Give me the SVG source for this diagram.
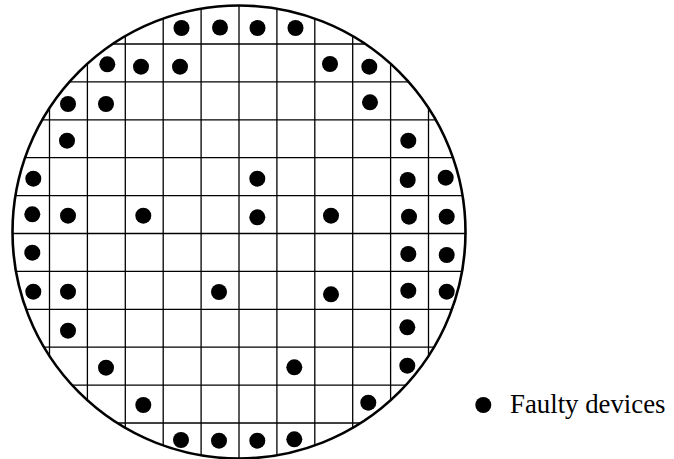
<svg xmlns="http://www.w3.org/2000/svg" width="674" height="459" viewBox="0 0 674 459">
<style>
.grid line{stroke:#000;stroke-width:1.3}
.dot{fill:#000}
.label{font-family:"Liberation Serif","DejaVu Serif",serif;font-size:26.8px;fill:#000}
</style>
<defs>
<clipPath id="wafer"><circle cx="239" cy="232" r="226.5"/></clipPath>
</defs>
<rect width="674" height="459" fill="#fff"/>
<g id="grid" class="grid" clip-path="url(#wafer)">
<line x1="49.5" y1="0" x2="49.5" y2="459"/>
<line x1="87.4" y1="0" x2="87.4" y2="459"/>
<line x1="125.3" y1="0" x2="125.3" y2="459"/>
<line x1="163.2" y1="0" x2="163.2" y2="459"/>
<line x1="201.1" y1="0" x2="201.1" y2="459"/>
<line x1="239" y1="0" x2="239" y2="459"/>
<line x1="276.9" y1="0" x2="276.9" y2="459"/>
<line x1="314.8" y1="0" x2="314.8" y2="459"/>
<line x1="352.7" y1="0" x2="352.7" y2="459"/>
<line x1="390.6" y1="0" x2="390.6" y2="459"/>
<line x1="428.5" y1="0" x2="428.5" y2="459"/>
<line x1="0" y1="44" x2="674" y2="44"/>
<line x1="0" y1="81.9" x2="674" y2="81.9"/>
<line x1="0" y1="119.8" x2="674" y2="119.8"/>
<line x1="0" y1="157.7" x2="674" y2="157.7"/>
<line x1="0" y1="195.6" x2="674" y2="195.6"/>
<line x1="0" y1="233.5" x2="674" y2="233.5"/>
<line x1="0" y1="271.4" x2="674" y2="271.4"/>
<line x1="0" y1="309.3" x2="674" y2="309.3"/>
<line x1="0" y1="347.2" x2="674" y2="347.2"/>
<line x1="0" y1="385.1" x2="674" y2="385.1"/>
<line x1="0" y1="423" x2="674" y2="423"/>
</g>
<g id="wafer-outline">
<circle cx="239" cy="232" r="226.5" fill="none" stroke="#000" stroke-width="2.6"/>
</g>
<g id="faulty-devices" class="dot">
<circle cx="181.5" cy="28" r="8"/><circle cx="220" cy="27.5" r="8"/><circle cx="257.5" cy="28" r="8"/><circle cx="295.5" cy="28" r="8"/>
<circle cx="107.3" cy="64.3" r="8"/><circle cx="141" cy="66.7" r="8"/><circle cx="180" cy="66.7" r="8"/><circle cx="330" cy="64" r="8"/><circle cx="369.3" cy="66.7" r="8"/>
<circle cx="68" cy="104" r="8"/><circle cx="106" cy="104" r="8"/><circle cx="370" cy="102.3" r="8"/>
<circle cx="67" cy="140.7" r="8"/><circle cx="408.3" cy="140.7" r="8"/>
<circle cx="33.3" cy="178.7" r="8"/><circle cx="257.3" cy="178.7" r="8"/><circle cx="407.7" cy="180" r="8"/><circle cx="445.7" cy="177.7" r="8"/>
<circle cx="32.3" cy="214.3" r="8"/><circle cx="68" cy="215.7" r="8"/><circle cx="143.3" cy="215.7" r="8"/><circle cx="257.3" cy="217.3" r="8"/><circle cx="331" cy="215.7" r="8"/><circle cx="409" cy="216.7" r="8"/><circle cx="446.7" cy="216.7" r="8"/>
<circle cx="32.3" cy="252.7" r="8"/><circle cx="408.3" cy="254" r="8"/><circle cx="446.7" cy="255" r="8"/>
<circle cx="33.3" cy="291.7" r="8"/><circle cx="68" cy="291.7" r="8"/><circle cx="219" cy="292" r="8"/><circle cx="331" cy="294.3" r="8"/><circle cx="408.3" cy="290.7" r="8"/><circle cx="446.7" cy="291.7" r="8"/>
<circle cx="68" cy="330.7" r="8"/><circle cx="407.3" cy="327.3" r="8"/>
<circle cx="106" cy="367.7" r="8"/><circle cx="294.3" cy="367.3" r="8"/><circle cx="407.3" cy="365.7" r="8"/>
<circle cx="143.3" cy="405" r="8"/><circle cx="368.3" cy="402.7" r="8"/>
<circle cx="181" cy="440" r="8"/><circle cx="219" cy="440.7" r="8"/><circle cx="257.3" cy="440.7" r="8"/><circle cx="294.3" cy="439.3" r="8"/>
</g>
<g id="legend">
<circle class="dot" cx="483.3" cy="405" r="8"/>
<text class="label" x="510" y="413">Faulty devices</text>
</g>
</svg>
